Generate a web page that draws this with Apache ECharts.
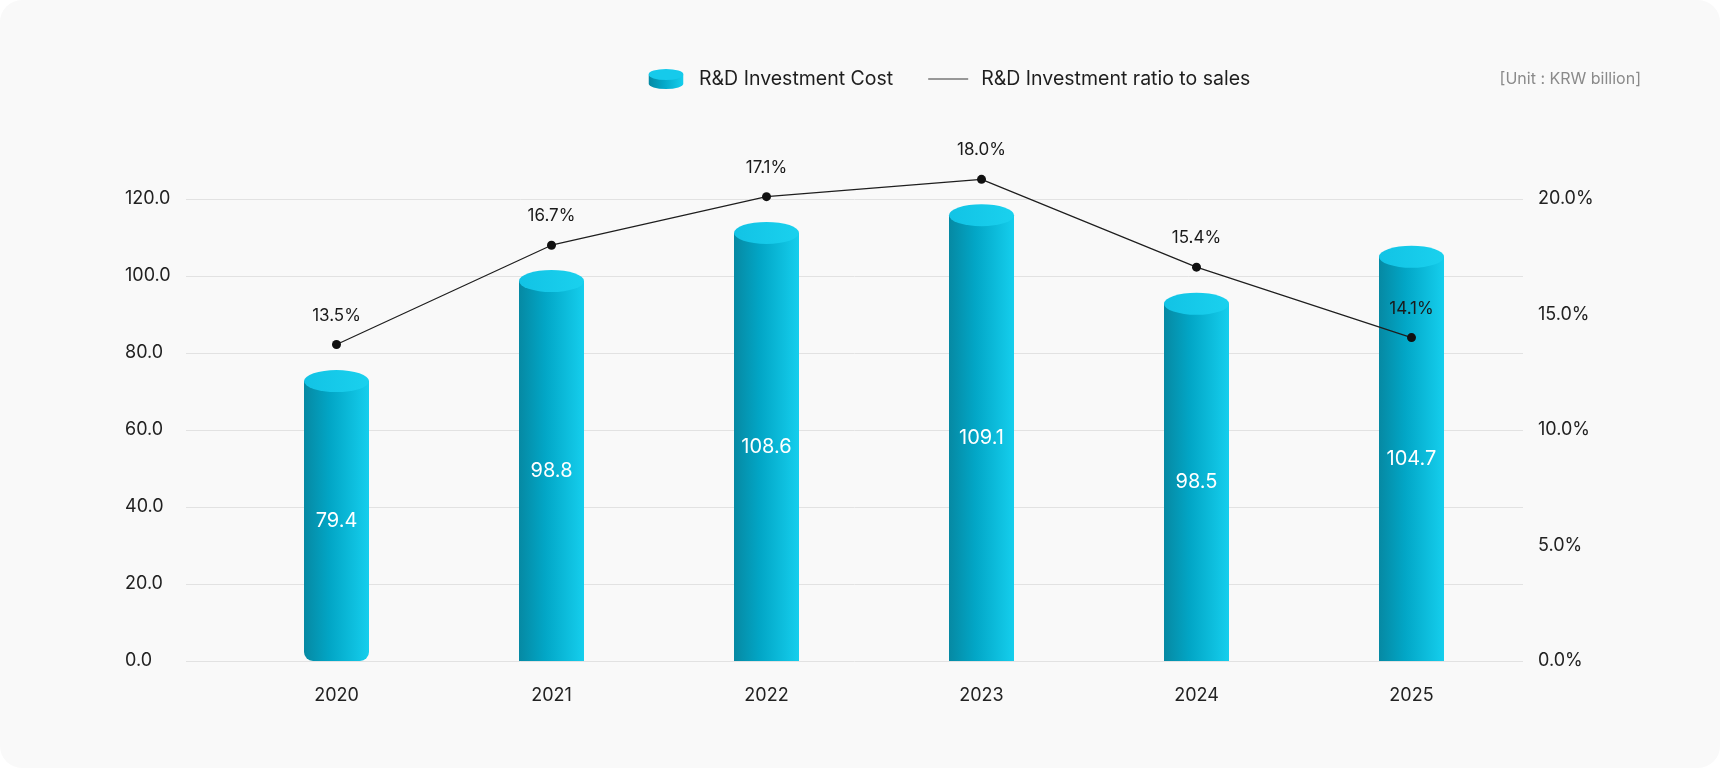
<!DOCTYPE html>
<html>
<head>
<meta charset="utf-8">
<title>R&D Investment</title>
<script src="https://cdn.jsdelivr.net/npm/echarts@6/dist/echarts.min.js"></script>
<style>
  html, body { margin: 0; padding: 0; background: #ffffff; }
  .panel {
    width: 1720px;
    height: 768px;
    border-radius: 22px;
    background: #f9f9f9;
    overflow: hidden;
  }
  #chart { width: 1720px; height: 768px; }
</style>
</head>
<body>
<div class="panel"><div id="chart"></div></div>
<script>
// 연도
const years = ['2020', '2021', '2022', '2023', '2024', '2025'];
// 막대 높이 (그림에서 읽은 값, 좌측 축 기준)
const costHeights = [72.7, 98.7, 111.2, 115.8, 92.8, 105.0];
// 막대 안의 표시값
const costLabels = ['79.4', '98.8', '108.6', '109.1', '98.5', '104.7'];
// 꺾은선 점 높이 (그림에서 읽은 값, 우측 축 기준)
const ratioHeights = [13.7, 18.0, 20.1, 20.85, 17.05, 14.0];
// 꺾은선 표시값
const ratioLabels = ['13.5%', '16.7%', '17.1%', '18.0%', '15.4%', '14.1%'];
// 축 눈금
const leftTicks = { min: 0, max: 120, interval: 20 };
const rightTicks = { min: 0, max: 20, interval: 5 };

const FONT = 'Inter, "Noto Sans", sans-serif';

const barGradient = new echarts.graphic.LinearGradient(0, 0, 1, 0, [
  { offset: 0, color: '#0689a3' },
  { offset: 0.4, color: '#02a6c6' },
  { offset: 1, color: '#15ceed' }
]);
const topGradient = new echarts.graphic.LinearGradient(0, 0, 1, 0, [
  { offset: 0, color: '#12c3e5' },
  { offset: 1, color: '#1ad1ee' }
]);

// 범례용 원통 아이콘
const cylSvg = "<svg xmlns='http://www.w3.org/2000/svg' width='35' height='20' viewBox='0 0 35 20'>" +
  "<defs><linearGradient id='g' x1='0' x2='1' y1='0' y2='0'>" +
  "<stop offset='0' stop-color='#0689a3'/><stop offset='0.4' stop-color='#02a6c6'/><stop offset='1' stop-color='#15ceed'/>" +
  "</linearGradient></defs>" +
  "<path d='M0 5.5 V14.5 A17.5 5.5 0 0 0 35 14.5 V5.5 Z' fill='url(#g)'/>" +
  "<ellipse cx='17.5' cy='5.5' rx='17.5' ry='5.5' fill='#16caeb'/></svg>";
const cylIcon = 'image://data:image/svg+xml;charset=utf-8,' + encodeURIComponent(cylSvg);

const myChart = echarts.init(document.getElementById('chart'));

const option = {
  backgroundColor: 'transparent',
  textStyle: { fontFamily: FONT },
  title: {
    text: '[Unit : KRW billion]',
    right: 74,
    top: 66,
    textStyle: { fontFamily: FONT, fontSize: 16, fontWeight: 'normal', color: '#8a8a8a' }
  },
  legend: {
    left: 646,
    top: 69,
    padding: 0,
    itemWidth: 40,
    itemHeight: 20,
    itemGap: 35,
    selectedMode: false,
    textStyle: { fontFamily: FONT, fontSize: 19.5, color: '#1e1e1e', padding: [0, 0, 0, 8] },
    data: [
      { name: 'R&D Investment Cost', icon: cylIcon },
      { name: 'R&D Investment ratio to sales', icon: 'path://M0 0H40V1.4H0Z', itemStyle: { color: '#777' } }
    ]
  },
  grid: [
    // 눈금선과 축 글자용
    { left: 186, right: 197, top: 199, bottom: 107 },
    // 막대와 꺾은선용 (위쪽으로 더 높게 잡아 20%를 넘는 점도 그린다)
    { left: 229, right: 201, top: 83.5, bottom: 107 }
  ],
  xAxis: [
    { gridIndex: 0, type: 'value', min: 0, max: 1, show: false },
    {
      gridIndex: 1,
      type: 'category',
      data: years,
      axisLine: { show: false },
      axisTick: { show: false },
      axisLabel: { margin: 26, fontFamily: FONT, fontSize: 18, color: '#222' }
    }
  ],
  yAxis: [
    {
      gridIndex: 0,
      type: 'value',
      position: 'left',
      min: leftTicks.min,
      max: leftTicks.max,
      interval: leftTicks.interval,
      axisLine: { show: false },
      axisTick: { show: false },
      splitLine: { lineStyle: { color: '#e2e2e2', width: 1 } },
      axisLabel: {
        align: 'left',
        margin: 61,
        fontFamily: FONT,
        fontSize: 18,
        color: '#222',
        formatter: v => v.toFixed(1)
      }
    },
    {
      gridIndex: 0,
      type: 'value',
      position: 'right',
      min: rightTicks.min,
      max: rightTicks.max,
      interval: rightTicks.interval,
      axisLine: { show: false },
      axisTick: { show: false },
      splitLine: { show: false },
      axisLabel: {
        align: 'left',
        margin: 15,
        fontFamily: FONT,
        fontSize: 18,
        color: '#222',
        formatter: v => v.toFixed(1) + '%'
      }
    },
    // 같은 비율로 위로 늘린 보이지 않는 축 (120 -> 150, 20% -> 25%)
    { gridIndex: 1, type: 'value', min: 0, max: leftTicks.max * 1.25, show: false },
    { gridIndex: 1, type: 'value', min: 0, max: rightTicks.max * 1.25, show: false }
  ],
  series: [
    {
      name: 'R&D Investment Cost',
      type: 'bar',
      xAxisIndex: 1,
      yAxisIndex: 2,
      barWidth: 65,
      itemStyle: { color: barGradient },
      label: {
        show: true,
        position: 'inside',
        fontFamily: FONT,
        fontSize: 20,
        color: '#fff',
        formatter: p => costLabels[p.dataIndex]
      },
      // 첫 막대만 아래 모서리가 둥글다
      data: costHeights.map((v, i) => i === 0
        ? { value: v, itemStyle: { borderRadius: [0, 0, 9, 9] } }
        : v),
      z: 2
    },
    {
      // 원통 윗면
      name: 'R&D Investment Cost',
      type: 'pictorialBar',
      xAxisIndex: 1,
      yAxisIndex: 2,
      symbol: 'circle',
      symbolSize: [65, 22],
      symbolPosition: 'end',
      symbolOffset: [0, '-50%'],
      itemStyle: { color: topGradient },
      silent: true,
      data: costHeights,
      z: 3
    },
    {
      name: 'R&D Investment ratio to sales',
      type: 'line',
      xAxisIndex: 1,
      yAxisIndex: 3,
      clip: false,
      symbol: 'circle',
      symbolSize: 9,
      itemStyle: { color: '#111' },
      lineStyle: { color: '#1e1e1e', width: 1.2 },
      label: {
        show: true,
        position: 'top',
        distance: 16,
        fontFamily: FONT,
        fontSize: 17,
        color: '#1a1a1a',
        formatter: p => ratioLabels[p.dataIndex]
      },
      data: ratioHeights,
      z: 5
    }
  ]
};

myChart.setOption(option);
</script>
</body>
</html>
